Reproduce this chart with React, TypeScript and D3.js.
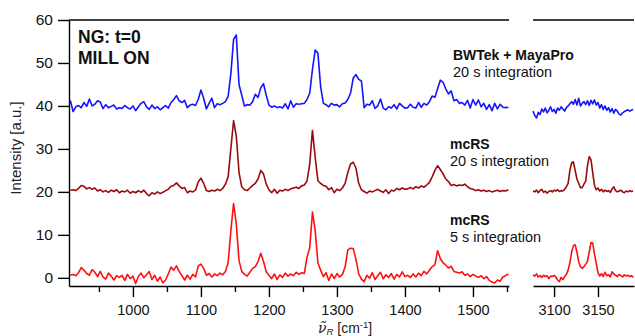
import * as d3 from "d3";
import React, { useEffect, useRef } from "react";

// sampling of the two spectral windows (cm-1)
const leftStart = 908;
const leftStep = 4;
const rightStart = 3076;
const rightStep = 2;

const yTicks = [0, 10, 20, 30, 40, 50, 60];
const leftTicks = [1000, 1100, 1200, 1300, 1400, 1500];
const leftMinorTicks = [950, 1050, 1150, 1250, 1350, 1450, 1550];
const rightTicks = [3100, 3150];

// BWTek + MayaPro, 20 s (offset +40)
const bwtekLeft = [
  41.3, 38.7, 39.8, 40.1, 39.6, 40.8, 39.9, 41.6, 40.0, 40.4,
  41.2, 40.9, 39.4, 40.3, 39.6, 39.9, 40.2, 39.3, 39.6, 39.4,
  40.1, 39.6, 39.3, 40.0, 38.9, 39.8, 40.6, 41.0, 39.8, 39.2,
  40.2, 39.4, 39.8, 39.1, 39.6, 40.1, 39.5, 40.8, 41.5, 42.4,
  41.2, 40.8, 41.3, 39.6, 40.2, 40.4, 40.1, 41.5, 43.7, 41.8,
  39.3, 40.6, 41.8, 39.6, 40.5, 40.3, 40.6, 41.0, 42.2, 47.5,
  55.5, 56.5, 45.0, 42.5, 40.0, 40.3, 40.2, 41.0, 42.7, 42.0,
  44.2, 45.2, 42.5, 40.2, 39.7, 40.0, 39.6, 39.8, 39.5, 40.5,
  39.3, 41.2, 39.7, 40.5, 40.4, 40.5, 40.6, 41.5, 43.0, 48.5,
  53.0, 52.3, 44.5, 40.6, 40.3, 39.8, 40.6, 40.2, 40.3, 39.8,
  40.5, 40.7, 41.5, 43.0, 46.5, 47.3, 46.2, 45.8, 39.6, 40.4,
  40.2, 41.2, 39.4, 40.0, 41.6, 39.5, 39.1, 39.8, 39.5, 40.3,
  39.3, 40.6, 40.0, 39.5, 39.6, 40.4, 39.7, 39.5, 40.8, 39.7,
  40.6, 40.2, 41.0, 42.3, 42.0, 44.0, 46.0, 45.5, 44.0, 42.8,
  43.5, 41.2, 41.5, 40.6, 40.8, 40.2, 41.3, 39.5, 41.5, 40.2,
  41.4, 39.8, 40.6, 39.2, 40.3, 38.9, 40.6, 39.3, 40.4, 39.7,
  39.6, 39.7,
];
const bwtekRight = [
  38.8, 37.8, 37.2, 38.5, 38.0, 39.3, 38.6, 39.5, 38.4, 39.0,
  39.8, 38.7, 39.2, 38.3, 39.5, 39.0, 39.8, 39.3, 38.8, 39.6,
  40.0, 40.5, 41.0, 40.4, 41.5, 40.2, 41.8, 40.0, 40.6, 41.0,
  40.3, 41.2, 40.1, 41.3, 40.5, 41.4, 40.2, 40.8, 39.5, 40.3,
  39.2, 40.0, 39.0, 39.6, 38.6, 39.4, 38.3, 39.2, 38.8, 38.1,
  37.9, 38.4, 38.7, 38.9, 39.1, 38.8, 39.0, 39.2,
];

// mcRS, 20 s (offset +20)
const mcrs20Left = [
  20.4, 20.5, 20.3, 20.8, 21.5, 21.3, 20.7, 21.0, 20.6, 20.9,
  20.2, 20.5, 20.0, 20.3, 19.9, 20.4, 20.1, 20.5, 19.8, 20.2,
  20.0, 20.4, 19.7, 20.1, 19.8, 20.3, 19.9, 20.4, 19.6, 19.1,
  19.8, 19.5, 20.0, 19.6, 19.9, 20.3, 20.6, 21.3, 21.5, 22.1,
  21.4, 20.8, 21.0, 19.8, 20.2, 20.0, 20.4, 22.3, 23.2, 22.0,
  20.3, 20.1, 20.4, 20.2, 20.6, 20.3, 20.8, 21.8, 23.5, 30.0,
  36.6, 33.0, 24.5, 21.2, 20.5, 20.3, 20.9, 21.5, 22.0, 23.0,
  25.0, 24.2, 21.8, 20.5, 19.8, 20.6, 19.7, 20.4, 20.2, 20.6,
  20.3, 20.7, 20.9, 21.1, 20.8, 21.4, 21.6, 22.5, 26.5, 34.3,
  28.0, 22.6, 22.0, 21.5, 21.3, 20.5, 21.0, 19.8, 20.6, 20.3,
  20.9, 22.0, 24.5, 26.5, 26.9, 25.5, 22.0, 20.5, 20.1, 19.7,
  20.2, 20.0, 20.3, 20.6, 20.2, 19.9, 20.5, 19.6, 20.4, 20.2,
  20.8, 20.5, 20.9, 20.6, 20.7, 21.0, 20.7, 21.2, 20.9, 21.4,
  21.1, 21.6, 22.2, 23.5, 25.0, 26.1, 25.2, 24.2, 23.0, 22.4,
  21.5, 21.7, 21.4, 21.6, 21.5, 21.8, 21.2, 20.8, 20.6, 20.3,
  20.5, 20.2, 20.4, 20.1, 20.3, 20.0, 20.2, 20.4, 20.1, 20.3,
  20.2, 20.5,
];
const mcrs20Right = [
  20.2, 20.0, 20.4, 19.8, 20.3, 20.6, 19.9, 20.2, 19.7, 20.1,
  20.3, 20.0, 20.4, 20.2, 20.5, 20.1, 20.3, 20.2, 20.6, 21.2,
  22.0, 25.0, 26.8, 27.0, 25.0, 23.0, 22.0, 21.0, 21.0, 21.8,
  22.5, 26.0, 28.2, 27.5, 24.5, 21.5, 20.5, 20.9, 20.2, 20.6,
  20.0, 20.4, 20.1, 20.3, 19.9, 20.7, 21.2, 20.3, 20.0, 20.2,
  20.4, 20.0, 19.8, 20.2, 20.0, 20.3, 20.1, 20.2,
];

// mcRS, 5 s (no offset)
const mcrs5Left = [
  0.6, 0.8, 0.5, 1.2, 2.4, 1.8, 1.0, 0.6, 1.9, 1.3,
  0.3, 1.5, 0.2, -0.3, 1.1, 0.4, -0.5, 0.5, 0.1, 0.6,
  -0.6, 0.8, -0.2, 0.4, -1.3, 0.3, 1.1, 0.0, 0.7, 1.5,
  -0.4, 0.6, -0.8, 0.2, -1.2, -0.5, 0.9, 2.5, 1.8, 2.8,
  1.5, 0.5, -0.5, 0.6, -0.3, 0.8, 0.2, 2.7, 3.2, 2.2,
  0.6, 1.0, 0.2, 0.9, 0.5, 1.1, 0.7, 1.5, 3.5, 11.0,
  17.3, 12.5, 4.0, 1.5, 0.8, 0.4, 1.3, 2.2, 2.6, 3.8,
  5.7, 3.8, 1.4, 0.6, -0.2, 0.9, -0.4, 0.7, 0.1, 1.1,
  0.4, 0.9, 0.5, 1.3, 0.8, 1.2, 1.0, 4.8, 7.0, 15.3,
  11.0, 3.5, 1.8, 0.3, 1.2, -0.6, 0.9, -0.2, 1.0, 0.2,
  0.8, 2.5, 6.5, 6.9, 6.8, 4.3, 0.9, -0.3, -0.9, 0.6,
  -0.1, 1.2, -0.4, 0.5, 1.3, -0.2, 0.7, 0.1, 1.0, -0.3,
  0.8, 0.2, 1.4, 0.3, 0.6, 0.1, 0.9, 0.2, 1.1, 0.5,
  1.5, 0.9, 1.8, 2.6, 3.0, 6.3, 4.5, 3.5, 3.0, 2.3,
  2.7, 1.5, 1.3, 1.1, 1.4, 0.6, 0.9, 0.3, 0.8, 0.4,
  0.1, 0.5, -0.2, 0.3, -0.6, -1.0, -1.2, -0.5, -0.8, 0.2,
  0.5, 0.9,
];
const mcrs5Right = [
  0.7, 0.4, 0.9, 0.2, 0.5, 0.1, 0.6, 0.3, 0.5, -0.2,
  0.4, 0.3, 0.6, 0.2, -0.5, -0.9, 0.1, -0.4, 0.3, 0.8,
  1.8, 3.5, 6.0, 7.5, 7.7, 6.0, 3.8, 2.6, 2.2, 2.6,
  3.2, 3.8, 6.0, 8.2, 8.1, 5.5, 3.4, 1.2, 0.4, 1.0,
  0.3, 1.3, 0.5, 0.7, 0.2, 1.4, 0.9, 0.6, 0.3, 0.8,
  0.5, 0.2, 0.7, 0.4, 0.6, 0.3, 0.5, 0.1,
];

const font = "'Liberation Sans', Arial, sans-serif";

const App = () => {
  const ref = useRef(null);

  useEffect(() => {
    const width = 635;
    const height = 336;

    const svg = d3.select(ref.current).attr("width", width).attr("height", height);
    svg.selectAll("*").remove();

    const xL = d3.scaleLinear().domain([906, 1553]).range([69, 509]);
    const xR = d3.scaleLinear().domain([3076, 3191]).range([533, 634]);
    const y = d3.scaleLinear().domain([-1.9, 60]).range([286, 20]);

    const series = [
      { left: bwtekLeft, right: bwtekRight, color: "#1414ff" },
      { left: mcrs20Left, right: mcrs20Right, color: "#9b0a0a" },
      { left: mcrs5Left, right: mcrs5Right, color: "#ff1010" },
    ];

    series.forEach((s) => {
      const lineL = d3
        .line()
        .x((d, i) => xL(leftStart + i * leftStep))
        .y((d) => y(d));
      const lineR = d3
        .line()
        .x((d, i) => xR(rightStart + i * rightStep))
        .y((d) => y(d));
      svg.append("path").attr("d", lineL(s.left)).attr("fill", "none")
        .attr("stroke", s.color).attr("stroke-width", 1.6).attr("stroke-linejoin", "round");
      svg.append("path").attr("d", lineR(s.right)).attr("fill", "none")
        .attr("stroke", s.color).attr("stroke-width", 1.6).attr("stroke-linejoin", "round");
    });

    // axes
    const styleAxis = (g) => {
      g.selectAll("path, line").attr("stroke", "#000").attr("stroke-width", 1.4);
      g.selectAll("text").attr("fill", "#111").style("font-family", font);
    };

    svg.append("g").attr("transform", "translate(69,0)")
      .call(d3.axisLeft(y).tickValues(yTicks).tickSize(11).tickSizeOuter(0).tickPadding(5))
      .call(styleAxis)
      .selectAll("text").style("font-size", "15.5px");

    svg.append("g").attr("transform", "translate(0,286)")
      .call(d3.axisBottom(xL).tickValues(leftTicks).tickSize(11).tickSizeOuter(0).tickPadding(8).tickFormat(d3.format("d")))
      .call(styleAxis)
      .selectAll("text").style("font-size", "14.5px");
    svg.append("g").attr("transform", "translate(0,286)")
      .call(d3.axisBottom(xL).tickValues(leftMinorTicks).tickSize(6).tickSizeOuter(0).tickFormat(() => ""))
      .call(styleAxis)
      .select(".domain").remove();

    svg.append("g").attr("transform", "translate(0,286)")
      .call(d3.axisBottom(xR).tickValues(rightTicks).tickSize(11).tickSizeOuter(0).tickPadding(8).tickFormat(d3.format("d")))
      .call(styleAxis)
      .selectAll("text").style("font-size", "14.5px");

    // top frame lines
    [xL, xR].forEach((x) => {
      svg.append("line").attr("x1", x.range()[0]).attr("x2", x.range()[1])
        .attr("y1", y(60)).attr("y2", y(60)).attr("stroke", "#000").attr("stroke-width", 1.4);
    });

    // axis titles
    svg.append("text")
      .attr("transform", "translate(21,148) rotate(-90)")
      .attr("text-anchor", "middle")
      .style("font-family", font).style("font-size", "15px").attr("fill", "#222")
      .text("Intensity [a.u.]");

    const xt = svg.append("text").attr("x", 318).attr("y", 332.5)
      .style("font-family", font).style("font-size", "14px").attr("fill", "#222");
    xt.append("tspan").style("font-style", "italic").style("font-family", "'DejaVu Serif', serif").text("\u03bd\u0303");
    xt.append("tspan").attr("dy", 2).style("font-size", "9.5px").style("font-style", "italic").text("R");
    xt.append("tspan").attr("dy", -2).text(" [cm");
    xt.append("tspan").attr("dy", -5).style("font-size", "9.5px").text("-1");
    xt.append("tspan").attr("dy", 5).text("]");

    // annotations
    const note = (x, yy, txt, bold, size) =>
      svg.append("text").attr("x", x).attr("y", yy)
        .style("font-family", font).style("font-size", size)
        .style("font-weight", bold ? "bold" : "normal").attr("fill", "#111").text(txt);

    note(78, 43, "NG: t=0", true, "17.5px");
    note(78, 63.5, "MILL ON", true, "17.5px");
    note(453, 59.5, "BWTek + MayaPro", true, "14px");
    note(453, 76.5, "20 s integration", false, "14.5px");
    note(450, 148.5, "mcRS", true, "14px");
    note(450, 165.5, "20 s integration", false, "14.5px");
    note(450, 225, "mcRS", true, "14px");
    note(450, 242, "5 s integration", false, "14.5px");
  }, []);

  return (
    <svg ref={ref} style={{ position: "absolute", left: 0, top: 0 }}></svg>
  );
};

export default App;
